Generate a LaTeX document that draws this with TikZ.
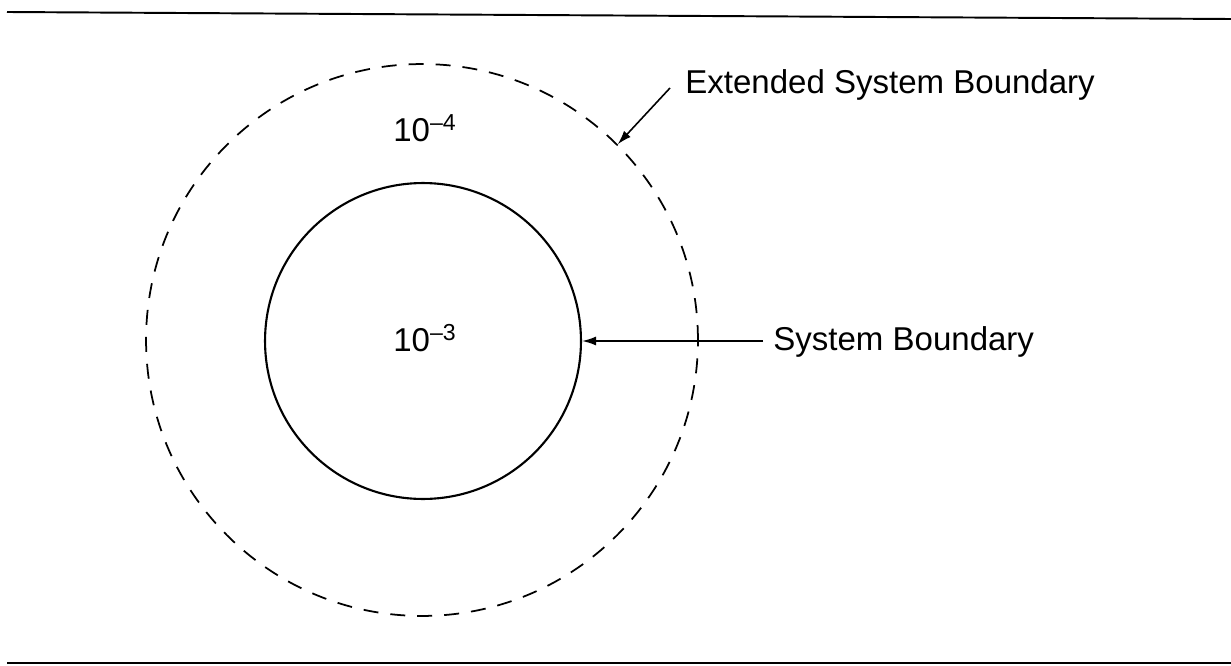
\documentclass[tikz,border=0pt]{standalone}
\usepackage{fontspec}
\setmainfont{Liberation Sans}
\usepackage{tikz}
\usetikzlibrary{arrows.meta, positioning}

\begin{document}
\begin{tikzpicture}[
    x=0.02cm, y=-0.02cm,
    boundary/.style={circle, draw, line width=1.2pt, inner sep=0pt},
    extboundary/.style={circle, draw, line width=1pt, dash pattern=on 0.3cm off 0.24cm, inner sep=0pt},
    arrow/.style={-{Latex[length=2.8mm, width=1.8mm]}, line width=0.9pt},
    label/.style={font=\fontsize{18.8}{23}\selectfont, inner sep=0.1cm},
    rule/.style={line width=1.1pt}
]
    \useasboundingbox (0,0) rectangle (1231,666);

    % Rules
    \draw[rule] (7,12) -- (1231,19);
    \draw[rule] (7,663) -- (1231,663);

    % Boundaries
    \node[extboundary, minimum size=11.04cm] (ext) at (422,340) {};
    \node[boundary, minimum size=6.32cm] (sys) at (423,341) {};

    % Probabilities
    \node[label] (pext) at (425,128) {10\textsuperscript{–4}};
    \node[label] (psys) at (425,338) {10\textsuperscript{–3}};

    % Labels
    \node[label, anchor=west] (extlbl) at (680,85) {Extended System Boundary};
    \node[label, anchor=west] (syslbl) at (768,342) {System Boundary};

    % Arrows
    \coordinate (extstart) at (670,88);
    \draw[arrow] (extstart) -- (ext.45);
    \draw[arrow] (syslbl.west) ++(-5,-1) -- (sys.east);
\end{tikzpicture}
\end{document}
